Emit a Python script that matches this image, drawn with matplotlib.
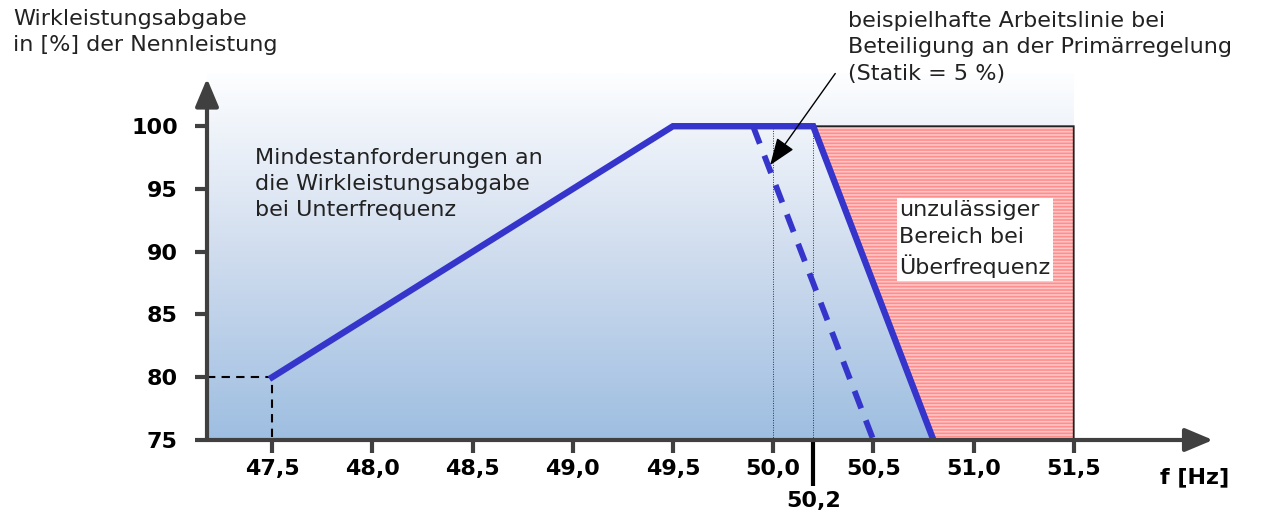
import numpy as np
import matplotlib
matplotlib.use("Agg")
import matplotlib.pyplot as plt
from matplotlib.patches import Polygon
from matplotlib.colors import LinearSegmentedColormap

# Mindestanforderung (Wirkleistung ueber Frequenz)
freq_min = [47.5, 49.5, 50.2, 50.8]
power_min = [80, 100, 100, 75]

# beispielhafte Arbeitslinie (Statik 5 %)
freq_statik = [49.9, 50.5]
power_statik = [100, 75]

# unzulaessiger Bereich bei Ueberfrequenz
freq_forbidden = [50.2, 51.5, 51.5, 50.8]
power_forbidden = [100, 100, 75, 75]

# Hilfslinien
freq_marks = [50.0, 50.2]
freq_start, power_start = 47.5, 80

x_ticks = [47.5, 48.0, 48.5, 49.0, 49.5, 50.0, 50.5, 51.0, 51.5]
x_labels = ["47,5", "48,0", "48,5", "49,0", "49,5", "50,0", "50,5", "51,0", "51,5"]
y_ticks = [75, 80, 85, 90, 95, 100]

x_lo, x_hi = 47.175, 52.195
y_lo, y_hi = 75, 104.24

plt.rcParams["font.family"] = ["DejaVu Sans"]
plt.rcParams["hatch.linewidth"] = 1.2

fig = plt.figure(figsize=(12.63, 5.17), dpi=100)
ax = fig.add_axes([207 / 1263, 77 / 517, 1006 / 1263, 367 / 517])
for s in ax.spines.values():
    s.set_visible(False)
ax.patch.set_alpha(0)

# Hintergrund-Verlauf
cmap = LinearSegmentedColormap.from_list("bg", ["#9ebee1", "#cfdcee", "#fdfeff"])
grad = np.linspace(0, 1, 256).reshape(-1, 1)
ax.imshow(grad, cmap=cmap, origin="lower", aspect="auto",
          extent=(x_lo, x_ticks[-1], y_lo, y_hi), zorder=0)
ax.set_xlim(x_lo, x_hi)
ax.set_ylim(y_lo, y_hi)

# roter schraffierter Bereich
pts = list(zip(freq_forbidden, power_forbidden))
ax.add_patch(Polygon(pts, closed=True, facecolor="#ff8e8e", edgecolor="#ffc6c6",
                     hatch="-----", linewidth=0, zorder=1))
ax.add_patch(Polygon(pts, closed=True, fill=False, edgecolor="#222222",
                     linewidth=1.3, zorder=2))

# Hilfslinien
for f in freq_marks:
    ax.plot([f, f], [y_lo, 100], color="#333333", lw=0.7, ls=(0, (1, 1.5)), zorder=2)
ax.plot([x_lo, freq_start, freq_start], [power_start, power_start, y_lo],
        color="black", lw=1.5, ls=(0, (4, 3)), zorder=3, clip_on=False)

# Kennlinien
ax.plot(freq_statik, power_statik, color="#3535cc", lw=4.2, ls=(0, (3.2, 2.2)),
        zorder=4, solid_capstyle="butt")
ax.plot(freq_min, power_min, color="#3535cc", lw=4.6, zorder=5,
        solid_joinstyle="miter")

# Achsen mit Pfeilen
arrow = dict(arrowstyle="-|>,head_length=1.0,head_width=0.42", lw=3,
             color="#404040", mutation_scale=17, shrinkA=0, shrinkB=0)
ax.annotate("", xy=(x_hi, y_lo), xytext=(x_lo, y_lo), arrowprops=arrow,
            annotation_clip=False, zorder=6)
ax.annotate("", xy=(x_lo, 103.8), xytext=(x_lo, y_lo), arrowprops=arrow,
            annotation_clip=False, zorder=6)

ax.set_xticks(x_ticks)
ax.set_xticklabels(x_labels, fontsize=16, fontweight="bold")
ax.set_yticks(y_ticks)
ax.set_yticklabels([str(v) for v in y_ticks], fontsize=16, fontweight="bold")
ax.tick_params(axis="both", which="major", length=9, width=3, color="#404040",
               direction="out")
ax.tick_params(axis="x", which="major", pad=5)
ax.tick_params(axis="y", which="major", pad=12)

ax.set_xticks([50.2], minor=True)
ax.set_xticklabels(["50,2"], minor=True, fontsize=16, fontweight="bold")
ax.tick_params(axis="x", which="minor", length=33, width=3, color="black", pad=4)

# Beschriftungen
txt = dict(fontsize=16, color="#222222", va="top", ha="left", linespacing=1.4)
fig.text(13 / 1263, 1 - 9 / 517, "Wirkleistungsabgabe\nin [%] der Nennleistung", **txt)
fig.text(848 / 1263, 1 - 11 / 517,
         "beispielhafte Arbeitslinie bei\nBeteiligung an der Primärregelung\n(Statik = 5 %)",
         **txt)
fig.text(1160 / 1263, 40 / 517, "f [Hz]", fontsize=16, fontweight="bold",
         va="center", ha="left")

ax.text(47.415, 98.3, "Mindestanforderungen an\ndie Wirkleistungsabgabe\nbei Unterfrequenz",
        zorder=7, **txt)
ax.text(50.63, 94.1, "unzulässiger\nBereich bei\nÜberfrequenz", zorder=7,
        bbox=dict(facecolor="white", edgecolor="none", pad=2), **txt)

ax.annotate("", xy=(49.985, 96.9), xytext=(50.31, 104.2),
            arrowprops=dict(arrowstyle="-|>,head_length=1.2,head_width=0.45",
                            color="black", lw=1, mutation_scale=14,
                            shrinkA=0, shrinkB=0),
            annotation_clip=False, zorder=8)

fig.savefig("out.png", dpi=100)
